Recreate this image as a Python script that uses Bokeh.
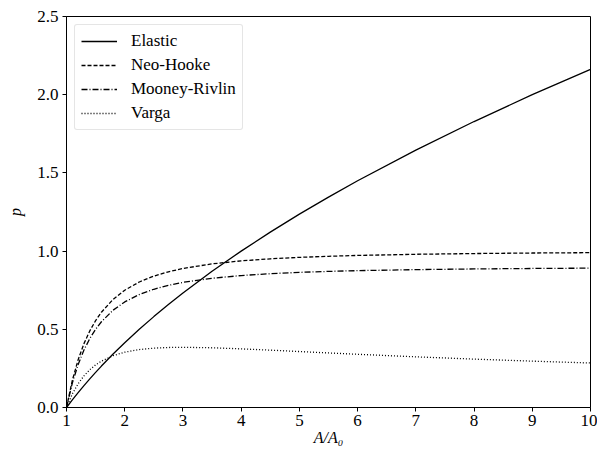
from bokeh.plotting import figure
from bokeh.models import FixedTicker, NumeralTickFormatter, Legend, LegendItem, Range1d
from bokeh.embed import file_html
from bokeh.resources import INLINE

ratio = [1, 1.1, 1.2, 1.3, 1.4, 1.5, 1.6, 1.8, 2.0, 2.25, 2.5, 2.75, 3, 3.5, 4, 4.5, 5, 5.5, 6, 7, 8, 9, 10]
elastic = [0, 0.0488, 0.0954, 0.1402, 0.1832, 0.2247, 0.2649, 0.3416, 0.4142, 0.5, 0.5811, 0.6583,
           0.7321, 0.8708, 1.0, 1.1213, 1.2361, 1.3452, 1.4495, 1.6458, 1.8284, 2.0, 2.1623]
neo_hooke = [0, 0.1736, 0.3056, 0.4083, 0.4898, 0.5556, 0.6094, 0.6914, 0.75, 0.8025, 0.84, 0.8678,
             0.8889, 0.9184, 0.9375, 0.9506, 0.96, 0.9669, 0.9722, 0.9796, 0.9844, 0.9877, 0.99]
mooney_rivlin = [0, 0.1562, 0.2750, 0.3675, 0.4408, 0.5, 0.5484, 0.6223, 0.675, 0.7222, 0.756, 0.7810,
                 0.8, 0.8265, 0.8438, 0.8556, 0.864, 0.8702, 0.875, 0.8816, 0.8859, 0.8889, 0.891]
varga = [0, 0.0867, 0.1521, 0.2024, 0.2415, 0.2722, 0.2965, 0.3313, 0.3536, 0.3704, 0.3795, 0.3837,
         0.3849, 0.3818, 0.375, 0.3667, 0.3578, 0.3489, 0.3402, 0.3240, 0.3094, 0.2963, 0.2846]
series_names = ["Elastic", "Neo-Hooke", "Mooney-Rivlin", "Varga"]
x_ticks = [1, 2, 3, 4, 5, 6, 7, 8, 9, 10]
y_ticks = [0, 0.5, 1.0, 1.5, 2.0, 2.5]

FONT = "Liberation Serif"

p = figure(width=597, height=452, output_backend="svg", toolbar_location=None,
           x_range=Range1d(1, 10), y_range=Range1d(0, 2.5),
           min_border_left=66, min_border_right=7, min_border_top=16, min_border_bottom=45)
p.grid.visible = False
p.outline_line_color = "black"
p.outline_line_width = 1
p.background_fill_color = "white"
p.border_fill_color = "white"

for ax in (p.xaxis[0], p.yaxis[0]):
    ax.axis_line_color = "black"
    ax.major_tick_line_color = "black"
    ax.major_tick_out = 4
    ax.major_tick_in = 0
    ax.minor_tick_line_color = None
    ax.major_label_text_font = FONT
    ax.major_label_text_font_size = "17px"
    ax.major_label_text_color = "black"
    ax.axis_label_text_font = FONT
    ax.axis_label_text_font_size = "16px"
    ax.axis_label_text_font_style = "italic"
    ax.axis_label_text_color = "black"

p.xaxis.ticker = FixedTicker(ticks=x_ticks)
p.yaxis.ticker = FixedTicker(ticks=y_ticks)
p.yaxis.formatter = NumeralTickFormatter(format="0.0")
p.xaxis.axis_label = "A/A\u2080"
p.yaxis.axis_label = "p"
p.xaxis.axis_label_standoff = 0
p.yaxis.axis_label_standoff = 10
p.xaxis.major_label_standoff = 3
p.yaxis.major_label_standoff = 4

dashes = ["solid", "4 2", "6 2 1 2", "1 2"]
renderers = []
for ys, dash in zip([elastic, neo_hooke, mooney_rivlin, varga], dashes):
    r = p.line(ratio, ys, line_color="black", line_width=1.3, line_dash=dash)
    renderers.append(r)

legend = Legend(items=[LegendItem(label=n, renderers=[r]) for n, r in zip(series_names, renderers)],
                location="top_left")
legend.label_text_font = FONT
legend.label_text_font_size = "17px"
legend.label_text_color = "black"
legend.border_line_color = "#cccccc"
legend.border_line_width = 1
legend.border_radius = 3
legend.glyph_width = 36
legend.glyph_height = 20
legend.spacing = 4
legend.padding = 6
legend.margin = 8
legend.label_standoff = 14
legend.label_height = 20
p.add_layout(legend)

open("out.html", "w").write(file_html(p, INLINE))
